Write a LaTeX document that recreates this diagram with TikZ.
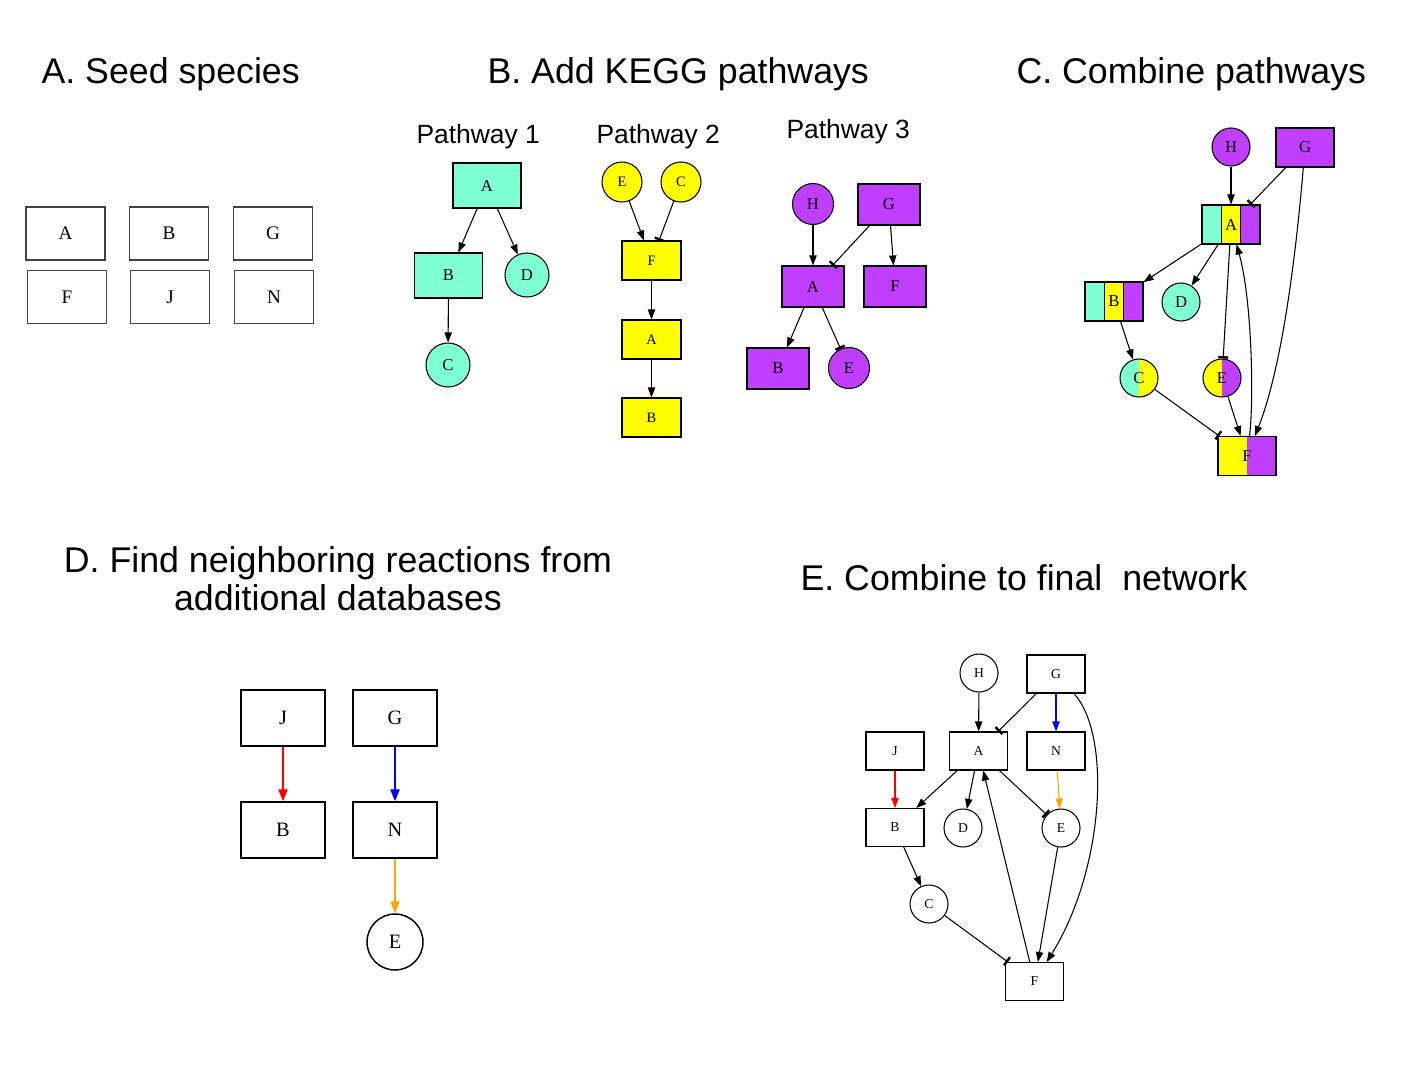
\documentclass[tikz,border=0pt]{standalone}
\usepackage{fontspec}
\setmainfont{Liberation Serif}
\newfontfamily\headfont{Liberation Sans}
\usetikzlibrary{arrows.meta,calc}

\definecolor{kteal}{HTML}{7FFFD4}
\definecolor{kyellow}{HTML}{FFFF00}
\definecolor{kpurple}{HTML}{BF3EFF}
\definecolor{korange}{HTML}{FFA500}

\tikzset{
  arr/.style={-{Triangle[length=7.5pt,width=5.5pt]}},
  tee/.style={-{Bar[width=7.5pt,line width=1.8pt]}},
  head/.style={anchor=base west,inner sep=0pt,font=\headfont\fontsize{26.8}{32}\selectfont},
  sub/.style={anchor=base west,inner sep=0pt,font=\headfont\fontsize{19.8}{24}\selectfont},
  seed/.style={draw=black!75,line width=1.1pt,minimum width=59pt,minimum height=39.5pt,font=\fontsize{14.4}{16}\selectfont},
  thirds/.style n args={3}{path picture={
    \path (path picture bounding box.south west) coordinate (ssw) (path picture bounding box.south east) coordinate (sse)
          (path picture bounding box.north west) coordinate (snw) (path picture bounding box.north east) coordinate (sne);
    \fill[#1] (ssw) rectangle ($(snw)!1/3!(sne)$);
    \fill[#2] ($(ssw)!1/3!(sse)$) rectangle ($(snw)!2/3!(sne)$);
    \fill[#3] ($(ssw)!2/3!(sse)$) rectangle (sne);
    \draw ($(ssw)!1/3!(sse)$) -- ($(snw)!1/3!(sne)$);
    \draw ($(ssw)!2/3!(sse)$) -- ($(snw)!2/3!(sne)$);
  }},
  halves/.style 2 args={path picture={
    \path (path picture bounding box.south west) coordinate (ssw) (path picture bounding box.south east) coordinate (sse)
          (path picture bounding box.north west) coordinate (snw) (path picture bounding box.north east) coordinate (sne);
    \fill[#1] (ssw) rectangle ($(snw)!1/2!(sne)$);
    \fill[#2] ($(ssw)!1/2!(sse)$) rectangle (sne);
  }}
}

\begin{document}
\begin{tikzpicture}[x=0.75pt,y=0.75pt,yscale=-1,xscale=1,line width=0.8pt]
\path[use as bounding box] (0,0) rectangle (1412,1078);

% Text Node
\node[head] (titleA) at (41,83) {A. Seed species};
\node[head] (titleB) at (487,83) {B. Add KEGG pathways};
\node[head] (titleC) at (1016,83) {C. Combine pathways};
\node[head,anchor=base] (titleD1) at (338,572) {D. Find neighboring reactions from};
\node[head,anchor=base] (titleD2) at (338,610) {additional databases};
\node[head] (titleE) at (800,590) {E. Combine to final\ \ network};
\node[sub] (path1) at (416,143) {Pathway 1};
\node[sub] (path2) at (596,143) {Pathway 2};
\node[sub] (path3) at (786,138) {Pathway 3};

%Shape: Seed species
\node[seed] (sA) at (65.5,233.5) {A};
\node[seed] (sB) at (169,233.5) {B};
\node[seed] (sG) at (273,233.5) {G};
\node[seed] (sF) at (67,297) {F};
\node[seed] (sJ) at (170,297) {J};
\node[seed] (sN) at (274,297) {N};

%Shape: Pathway 1
\begin{scope}[font=\fontsize{12.5}{14}\selectfont,
  box/.style={draw,fill=kteal,minimum width=51pt,minimum height=33.75pt},
  circ/.style={circle,draw,fill=kteal,minimum size=33pt,inner sep=0pt}]
\node[box] (p1A) at (487,185.5) {A};
\node[box] (p1B) at (448.5,275.5) {B};
\node[circ] (p1D) at (527,275) {D};
\node[circ] (p1C) at (448,365) {C};
\draw[arr] (p1A) -- (p1B);
\draw[arr] (p1A) -- (p1D);
\draw[arr] (p1B) -- (p1C);
\end{scope}

%Shape: Pathway 2
\begin{scope}[font=\fontsize{10.8}{12}\selectfont,
  box/.style={draw,fill=kyellow,minimum width=44.25pt,minimum height=29.25pt},
  circ/.style={circle,draw,fill=kyellow,minimum size=30pt,inner sep=0pt}]
\node[circ] (p2E) at (622,182) {E};
\node[circ] (p2C) at (681,182) {C};
\node[box] (p2F) at (651.5,260.5) {F};
\node[box] (p2A) at (651.5,339.5) {A};
\node[box] (p2B) at (651.5,417.5) {B};
\draw[arr] (p2E) -- (p2F);
\draw[tee] (p2C) -- (p2F);
\draw[arr] (p2F) -- (p2A);
\draw[arr] (p2A) -- (p2B);
\end{scope}

%Shape: Pathway 3
\begin{scope}[font=\fontsize{12.5}{14}\selectfont,
  box/.style={draw,fill=kpurple,minimum width=46.5pt,minimum height=30.75pt},
  circ/.style={circle,draw,fill=kpurple,minimum size=30.75pt,inner sep=0pt}]
\node[circ] (p3H) at (813,204) {H};
\node[box] (p3G) at (889,204.5) {G};
\node[box] (p3A) at (813,286.5) {A};
\node[box] (p3F) at (895,286.5) {F};
\node[box] (p3B) at (778,368.5) {B};
\node[circ] (p3E) at (849,368) {E};
\draw[arr] (p3H) -- (p3A);
\draw[tee] (p3G) -- (p3A);
\draw[arr] (p3G) -- (p3F);
\draw[arr] (p3A) -- (p3B);
\draw[tee] (p3A) -- (p3E);
\end{scope}

%Shape: Combined pathways
\begin{scope}[font=\fontsize{12.5}{14}\selectfont,
  box/.style={draw,minimum width=43.5pt,minimum height=29.25pt},
  circ/.style={circle,draw,minimum size=28.5pt,inner sep=0pt}]
\node[circ,fill=kpurple] (cH) at (1231,147) {H};
\node[box,fill=kpurple] (cG) at (1305,147.5) {G};
\node[box,thirds={kteal}{kyellow}{kpurple}] (cA) at (1231,224.5) {A};
\node[box,thirds={kteal}{kyellow}{kpurple}] (cB) at (1114,301.5) {B};
\node[circ,fill=kteal] (cD) at (1181,302) {D};
\node[circ,halves={kteal}{kyellow}] (cC) at (1139,378) {C};
\node[circ,halves={kyellow}{kpurple}] (cE) at (1222,378) {E};
\node[box,halves={kyellow}{kpurple}] (cF) at (1247,456) {F};
\draw[arr] (cH) -- (cA);
\draw[tee] (cG) -- (cA);
\draw[arr] (cG) .. controls (1298,230) and (1285,360) .. (cF);
\draw[arr] (cA) -- (cB);
\draw[arr] (cA) -- (cD);
\draw[tee] (cA) -- (cE);
\draw[arr] (cE) -- (cF);
\draw[arr] (cF) .. controls (1254,400) and (1252,300) .. (cA);
\draw[arr] (cB) -- (cC);
\draw[tee] (cC) -- (cF);
\end{scope}

%Shape: Neighboring reactions
\begin{scope}[font=\fontsize{15.3}{17}\selectfont,line width=1.1pt,
  box/.style={draw,minimum width=63pt,minimum height=42pt},
  circ/.style={circle,draw,minimum size=42pt,inner sep=0pt},
  big/.style={-{Triangle[length=9pt,width=7pt]}}]
\node[box] (dJ) at (283,718) {J};
\node[box] (dG) at (395,718) {G};
\node[box] (dB) at (283,830) {B};
\node[box] (dN) at (395,830) {N};
\node[circ] (dE) at (395,942) {E};
\draw[big,red] (dJ) -- (dB);
\draw[big,blue] (dG) -- (dN);
\draw[big,korange] (dN) -- (dE);
\end{scope}

%Shape: Final network
\begin{scope}[font=\fontsize{10.2}{12}\selectfont,
  box/.style={draw,minimum width=43.5pt,minimum height=28.5pt},
  circ/.style={circle,draw,minimum size=28.5pt,inner sep=0pt}]
\node[circ] (eH) at (979,673) {H};
\node[box] (eG) at (1056,674) {G};
\node[box] (eJ) at (895,751) {J};
\node[box] (eA) at (978.5,751) {A};
\node[box] (eN) at (1056,751) {N};
\node[box] (eB) at (895,827.5) {B};
\node[circ] (eD) at (963,828) {D};
\node[circ] (eE) at (1061,828) {E};
\node[circ] (eC) at (929,904) {C};
\node[box] (eF) at (1034.5,981.5) {F};
\draw[arr] (eH) -- (eA);
\draw[tee] (eG) -- (eA);
\draw[arr,blue] (eG) -- (eN);
\draw[arr] (eG) .. controls (1112,735) and (1104,870) .. (eF);
\draw[arr,red] (eJ) -- (eB);
\draw[arr] (eA) -- (eB);
\draw[arr] (eA) -- (eD);
\draw[tee] (eA) -- (eE);
\draw[arr,korange] (eN) -- (eE);
\draw[arr] (eB) -- (eC);
\draw[tee] (eC) -- (eF);
\draw[arr] (eE) -- (eF);
\draw[arr] (eF) -- (eA);
\end{scope}
\end{tikzpicture}
\end{document}
